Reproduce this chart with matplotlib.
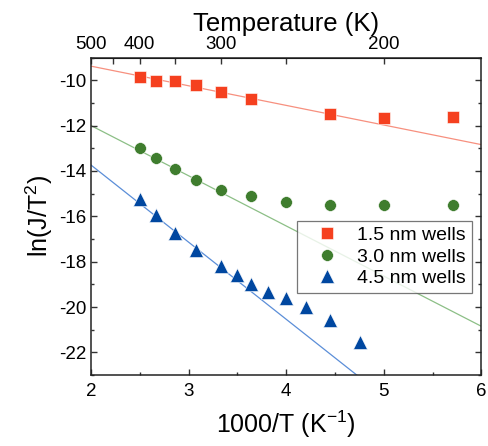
import numpy as np
import matplotlib
matplotlib.use("Agg")
import matplotlib.pyplot as plt
from matplotlib.ticker import MultipleLocator

plt.rcParams['font.family'] = ['Liberation Sans', 'DejaVu Sans']
plt.rcParams['axes.unicode_minus'] = False

# measured points, x = 1000/T
x_15 = [2.5, 2.667, 2.857, 3.077, 3.333, 3.636, 4.444, 5.0, 5.714]
y_15 = [-9.84, -10.05, -10.02, -10.22, -10.51, -10.85, -11.50, -11.66, -11.60]

x_30 = [2.5, 2.667, 2.857, 3.077, 3.333, 3.636, 4.0, 4.444, 5.0, 5.714]
y_30 = [-12.97, -13.42, -13.90, -14.38, -14.82, -15.11, -15.37, -15.50, -15.50, -15.50]

x_45 = [2.5, 2.667, 2.857, 3.077, 3.333, 3.5, 3.636, 3.81, 4.0, 4.2, 4.444, 4.76]
y_45 = [-15.24, -15.96, -16.73, -17.50, -18.21, -18.59, -18.97, -19.32, -19.58,
        -20.0, -20.55, -21.53]

# linear fits, evaluated at the ends of the x range
fit_x = [2, 6]
fit_15 = [-9.38, -12.84]
fit_30 = [-12.0, -20.85]
fit_45 = [-13.74, -27.34]

temps_major = [500, 400, 300, 200]
temps_minor = [450, 350, 250]

c_red, c_green, c_blue = '#F5401F', '#3F7D2E', '#0047A0'

fig = plt.figure(figsize=(4.88, 4.46), dpi=100)
ax = fig.add_axes([0.1865, 0.159, 0.8, 0.712])

ax.plot(fit_x, fit_15, color='#F7907F', lw=0.9, zorder=1)
ax.plot(fit_x, fit_30, color='#8CBF86', lw=0.9, zorder=1)
ax.plot(fit_x, fit_45, color='#5B8ED8', lw=0.9, zorder=1)

ax.plot(x_15, y_15, 's', color=c_red, ms=8, mec='white', mew=0.4, label='1.5 nm wells', zorder=3)
ax.plot(x_30, y_30, 'o', color=c_green, ms=8.5, mec='white', mew=0.4, label='3.0 nm wells', zorder=3)
ax.plot(x_45, y_45, '^', color=c_blue, ms=9.5, mec='white', mew=0.4, label='4.5 nm wells', zorder=3)

ax.set_xlim(2, 6)
ax.set_ylim(-23, -9)
ax.xaxis.set_major_locator(MultipleLocator(1))
ax.xaxis.set_minor_locator(MultipleLocator(0.5))
ax.yaxis.set_major_locator(MultipleLocator(2))
ax.yaxis.set_minor_locator(MultipleLocator(1))
ax.tick_params(which='both', direction='in', right=True, top=False, labelsize=13.5,
               width=1.0, color='#333333')
ax.tick_params(which='major', length=4)
ax.tick_params(which='minor', length=2.5)
ax.tick_params(axis='x', pad=6)

for s in ax.spines.values():
    s.set_linewidth(1.1)
    s.set_color('#222222')

ax.set_xlabel(r'1000/T (K$^{\mathregular{-1}}$)', fontsize=18, labelpad=6)
ax.set_ylabel(r'ln(J/T$^{\mathregular{2}}$)', fontsize=18, labelpad=3)

top = ax.secondary_xaxis('top')
top.set_xticks([1000 / t for t in temps_major], [str(t) for t in temps_major])
top.set_xticks([1000 / t for t in temps_minor], minor=True)
top.tick_params(which='both', direction='in', labelsize=13.5, width=1.0, color='#333333', pad=3)
top.tick_params(which='major', length=4)
top.tick_params(which='minor', length=4)
top.set_xlabel('Temperature (K)', fontsize=18.5, labelpad=4)

leg = ax.legend(loc='upper left', bbox_to_anchor=(0.527, 0.486), fontsize=14,
                frameon=True, fancybox=False, edgecolor='#555555', handletextpad=0.3,
                borderpad=0.3, labelspacing=0.2, handlelength=2.5, borderaxespad=0)
leg.get_frame().set_linewidth(0.9)

fig.savefig('out.png', dpi=100)
